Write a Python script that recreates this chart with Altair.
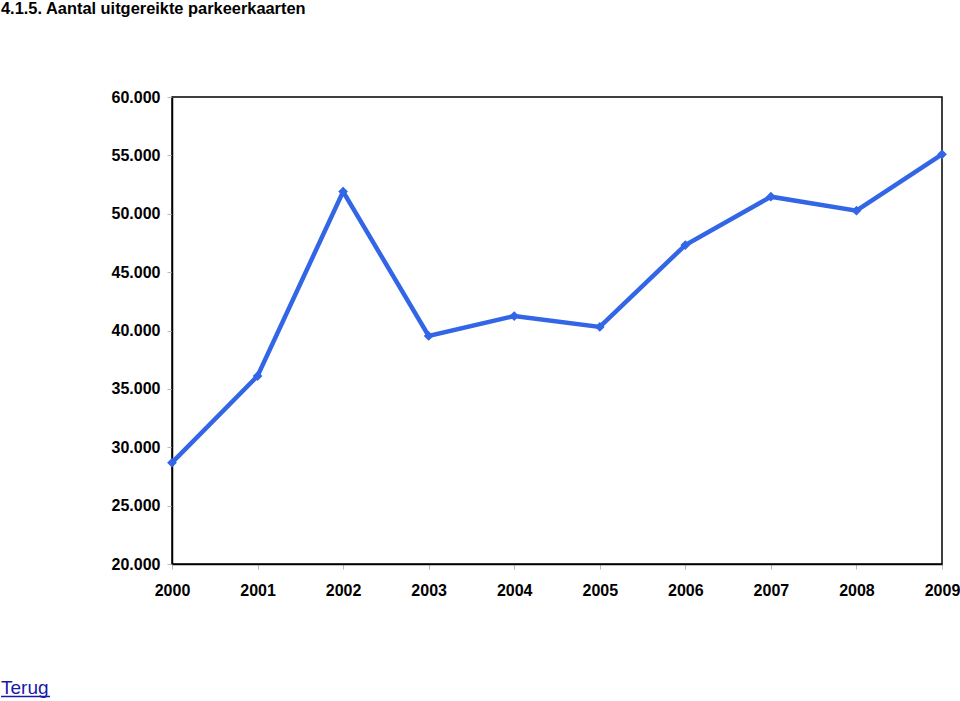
import altair as alt
import pandas as pd

years = [2000, 2001, 2002, 2003, 2004, 2005, 2006, 2007, 2008, 2009]
kaarten = [28680, 36100, 51900, 39530, 41240, 40300, 47320, 51460, 50260, 55090]
y_ticks = [20000, 25000, 30000, 35000, 40000, 45000, 50000, 55000, 60000]
title_text = "4.1.5. Aantal uitgereikte parkeerkaarten"
link_text = "Terug"

df = pd.DataFrame({"jaar": years, "aantal": kaarten})

FONT = "Liberation Sans"
BLUE = "#3366E6"

x_enc = alt.X(
    "jaar:Q",
    scale=alt.Scale(domain=[years[0], years[-1]], nice=False, zero=False),
    axis=alt.Axis(
        values=years, format="d", title=None, grid=False,
        domainColor="black", domainWidth=1.5,
        tickColor="#bbbbbb", tickSize=5, tickWidth=1,
        labelFont=FONT, labelFontSize=16, labelFontWeight="bold",
        labelColor="black", labelPadding=13, labelFlush=False,
    ),
)
y_enc = alt.Y(
    "aantal:Q",
    scale=alt.Scale(domain=[y_ticks[0], y_ticks[-1]], nice=False, zero=False),
    axis=alt.Axis(
        values=y_ticks, title=None, grid=False,
        labelExpr="replace(format(datum.value, ',.0f'), ',', '.')",
        domainColor="black", domainWidth=1.5,
        tickColor="#bbbbbb", tickSize=5, tickWidth=1,
        labelFont=FONT, labelFontSize=16, labelFontWeight="bold",
        labelColor="black", labelPadding=7, labelFlush=False,
    ),
)

base = alt.Chart(df)
line = base.mark_line(color=BLUE, strokeWidth=4.5).encode(x=x_enc, y=y_enc)
pts = base.mark_point(shape="diamond", filled=True, color=BLUE, size=95, opacity=1).encode(
    x="jaar:Q", y="aantal:Q"
)

title = alt.Chart(pd.DataFrame({"t": [title_text]})).mark_text(
    align="left", baseline="top", font=FONT, fontSize=16.4, fontWeight="bold", color="black"
).encode(text="t:N", x=alt.value(-171), y=alt.value(-96))

link = alt.Chart(pd.DataFrame({"t": [link_text]})).mark_text(
    align="left", baseline="alphabetic", font=FONT, fontSize=19, color="#1a1aa6"
).encode(text="t:N", x=alt.value(-171), y=alt.value(597))

underline = alt.Chart(pd.DataFrame({"t": [link_text]})).mark_rule(
    color="#1a1aa6", strokeWidth=1.3
).encode(x=alt.value(-171), x2=alt.value(-122), y=alt.value(599.5))

chart = alt.layer(line, pts, title, link, underline).properties(
    width=770, height=467,
    background="white",
    autosize=alt.AutoSizeParams(type="none"),
    padding={"left": 172, "top": 97, "right": 18, "bottom": 137},
).configure_view(stroke="black", strokeWidth=1.5)

chart.save("out.html", embed_options={"renderer": "svg", "actions": False})
